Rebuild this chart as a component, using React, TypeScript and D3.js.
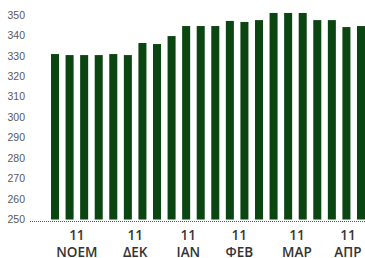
import React, { useEffect, useRef } from "react";
import * as d3 from "d3";

// weekly values, Nov 2011 - Apr 2012
const values = [330.9, 330.4, 330.4, 330.4, 330.9, 330.4, 336.3, 335.8, 339.7, 344.6, 344.6,
  344.6, 347.1, 346.6, 347.5, 351, 351, 351, 347.5, 347.5, 344.1, 344.6];
const yTicks = [250, 260, 270, 280, 290, 300, 310, 320, 330, 340, 350];
const monthLabels = ["ΝΟΕΜ", "ΔΕΚ", "ΙΑΝ", "ΦΕΒ", "ΜΑΡ", "ΑΠΡ"];
const yearLabels = ["11", "11", "11", "11", "11", "11"];
// where each month label sits, in bar-index units
const monthAt = [1.5, 5.5, 9.15, 12.65, 16.6, 20.1];

const W = 365;
const H = 258;

const App = () => {
  const ref = useRef(null);

  useEffect(() => {
    const svg = d3.select(ref.current);
    svg.selectAll("*").remove();

    const x = d3
      .scaleBand()
      .domain(values.map((d, i) => i))
      .range([51, 365])
      .paddingInner(0.45)
      .paddingOuter(0);
    const y = d3.scaleLinear().domain([250, 350]).range([219.5, 15]);

    const xc = d3
      .scaleLinear()
      .domain([0, 1])
      .range([x(0) + x.bandwidth() / 2, x(1) + x.bandwidth() / 2]);

    // y tick labels
    svg
      .append("g")
      .selectAll("text")
      .data(yTicks)
      .enter()
      .append("text")
      .attr("x", 25)
      .attr("y", d => y(d))
      .attr("dy", "0.35em")
      .attr("text-anchor", "end")
      .style("font-family", "Liberation Sans, Arial, sans-serif")
      .style("font-size", "10.5px")
      .style("fill", "#595959")
      .text(d => d);

    svg
      .append("g")
      .selectAll("rect")
      .data(values)
      .enter()
      .append("rect")
      .attr("x", (d, i) => x(i))
      .attr("y", d => y(d))
      .attr("width", x.bandwidth())
      .attr("height", d => y(250) - y(d))
      .attr("fill", "#0b4511");

    svg
      .append("line")
      .attr("x1", 30)
      .attr("x2", W)
      .attr("y1", 221.5)
      .attr("y2", 221.5)
      .attr("stroke", "#595959")
      .attr("stroke-width", 1)
      .attr("stroke-dasharray", "1,1");

    const lab = svg
      .append("g")
      .selectAll("g")
      .data(monthLabels)
      .enter()
      .append("g")
      .attr("transform", (d, i) => `translate(${xc(monthAt[i])},0)`);

    lab
      .append("text")
      .attr("y", 240)
      .attr("text-anchor", "middle")
      .style("font-family", "Open Sans, Liberation Sans, sans-serif")
      .style("font-weight", 600)
      .style("font-size", "13.5px")
      .style("fill", "#333")
      .text((d, i) => yearLabels[i]);

    lab
      .append("text")
      .attr("y", 256.5)
      .attr("text-anchor", "middle")
      .style("font-family", "Open Sans, Liberation Sans, sans-serif")
      .style("font-weight", 600)
      .style("font-size", "13.5px")
      .style("fill", "#333")
      .text(d => d);
  }, []);

  return (
    <svg
      ref={ref}
      width={W}
      height={H}
      style={{ position: "absolute", left: 0, top: 0, background: "#fff" }}
    />
  );
};

export default App;
